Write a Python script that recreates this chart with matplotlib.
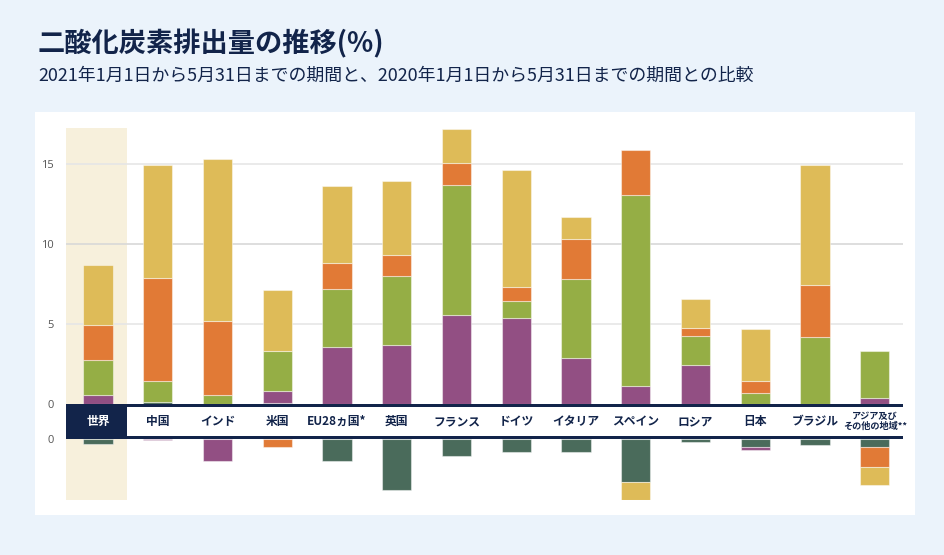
import matplotlib
matplotlib.use("Agg")
import matplotlib.pyplot as plt
from matplotlib.patches import Rectangle
from matplotlib.transforms import blended_transform_factory
import numpy as np

plt.rcParams['font.family'] = ['Noto Sans CJK JP', 'DejaVu Sans']

# ---------------- data ----------------
title = "二酸化炭素排出量の推移(%)"
subtitle = "2021年1月1日から5月31日までの期間と、2020年1月1日から5月31日までの期間との比較"
categories = ["世界", "中国", "インド", "米国", "EU28ヵ国*", "英国", "フランス", "ドイツ",
              "イタリア", "スペイン", "ロシア", "日本", "ブラジル", "アジア及び\nその他の地域**"]
# stacked from the zero line outward, in this order
series_teal   = [-0.33, 0.17, 0.00, 0.10, -1.40, -3.19, -1.10, -0.85, -0.85, -2.68, -0.19, -0.52, -0.40, -0.50]
series_purple = [0.55, -0.10, -1.37, 0.74, 3.58, 3.70, 5.59, 5.38, 2.87, 1.11, 2.46, -0.18, 0.00, 0.40]
series_green  = [2.24, 1.29, 0.57, 2.49, 3.61, 4.32, 8.07, 1.06, 4.94, 11.93, 1.82, 0.70, 4.18, 2.95]
series_orange = [2.16, 6.43, 4.63, -0.50, 1.61, 1.28, 1.39, 0.87, 2.49, 2.80, 0.48, 0.78, 3.28, -1.29]
series_yellow = [3.75, 7.03, 10.12, 3.80, 4.78, 4.60, 2.14, 7.32, 1.39, -1.14, 1.82, 3.24, 7.46, -1.10]
upper_ticks = [0, 5, 10, 15]
lower_ticks = [0]

# ---------------- style ----------------
W, H = 945, 555
navy = "#12244a"
bg = "#ebf3fb"
highlight = "#f7f0dc"
colors = ["#4a6b5b", "#924f83", "#95ae45", "#e17a36", "#debb58"]
series = [series_teal, series_purple, series_green, series_orange, series_yellow]

def fx(x):
    return x / W

def fy(y):
    return 1 - y / H

fig = plt.figure(figsize=(W / 100, H / 100), dpi=100, facecolor=bg)

# white panel
fig.add_artist(Rectangle((fx(35), fy(515)), fx(915) - fx(35), fy(112) - fy(515),
                         transform=fig.transFigure, facecolor="white", edgecolor="none", zorder=0))
# world highlight column
fig.add_artist(Rectangle((fx(66), fy(500)), fx(127) - fx(66), fy(128) - fy(500),
                         transform=fig.transFigure, facecolor=highlight, edgecolor="none", zorder=0.5))

# geometry
left_px, right_px = 66, 903
c0, step = 98, 59.75
zero_top = 404.3
zero_bot = 438.7
top_px = 128
bot_px = 500
ppu = 16.04  # pixels per unit
xl = ((left_px - c0) / step, (right_px - c0) / step)

# band with category labels (below axes so labels drawn on top)
fig.add_artist(Rectangle((fx(left_px), fy(406.9)), fx(right_px) - fx(left_px), fy(404.3) - fy(406.9),
                         transform=fig.transFigure, facecolor=navy, edgecolor="none", zorder=1))
fig.add_artist(Rectangle((fx(left_px), fy(438.7)), fx(right_px) - fx(left_px), fy(436.1) - fy(438.7),
                         transform=fig.transFigure, facecolor=navy, edgecolor="none", zorder=1))
fig.add_artist(Rectangle((fx(66), fy(438.7)), fx(127) - fx(66), fy(404.3) - fy(438.7),
                         transform=fig.transFigure, facecolor=navy, edgecolor="none", zorder=1))

ax_t = fig.add_axes([fx(left_px), fy(zero_top), fx(right_px) - fx(left_px), fy(top_px) - fy(zero_top)])
ax_b = fig.add_axes([fx(left_px), fy(bot_px), fx(right_px) - fx(left_px), fy(zero_bot) - fy(bot_px)])
for ax in (ax_t, ax_b):
    ax.set_facecolor("none")
    for s in ax.spines.values():
        s.set_visible(False)
    ax.set_xlim(*xl)
    ax.set_xticks([])
    ax.tick_params(axis="y", length=0, pad=9, labelsize=8, labelcolor="#555555")
    ax.set_zorder(2)

ax_t.set_ylim(0, (zero_top - top_px) / ppu)
ax_b.set_ylim(-(bot_px - zero_bot) / ppu, 0)
ax_t.set_yticks(upper_ticks)
ax_b.set_yticks(lower_ticks)
ax_t.set_yticklabels([str(t) for t in upper_ticks], family=["Open Sans", "DejaVu Sans"])
ax_b.set_yticklabels([str(t) for t in lower_ticks], family=["Open Sans", "DejaVu Sans"])

# gridlines
for t in upper_ticks[1:]:
    ax_t.axhline(t, color="#d8d8d8" if t == 10 else "#e6e6e6", lw=1.2, zorder=0)

x = np.arange(len(categories))
bw = 0.49
pos_base = np.zeros(len(categories))
neg_base = np.zeros(len(categories))
for vals, col in zip(series, colors):
    v = np.array(vals)
    pos = np.where(v > 0, v, 0)
    neg = np.where(v < 0, v, 0)
    m = pos > 0
    ax_t.bar(x[m], pos[m], bottom=pos_base[m], width=bw, color=col,
             edgecolor=(1, 1, 1, 0.45), linewidth=0.8, zorder=3)
    m = neg < 0
    ax_b.bar(x[m], neg[m], bottom=neg_base[m], width=bw, color=col,
             edgecolor=(1, 1, 1, 0.45), linewidth=0.8, zorder=3)
    pos_base += pos
    neg_base += neg

trans = blended_transform_factory(ax_t.transData, fig.transFigure)
for i, name in enumerate(categories):
    if "\n" in name:
        fs, ls = 6.6, 1.0
    else:
        fs, ls = 8.5, 1.2
    ax_t.text(i, fy(421.5), name, transform=trans, ha="center", va="center",
              fontsize=fs, fontweight="bold", linespacing=ls,
              color="white" if i == 0 else navy, zorder=6, clip_on=False)

# titles
fig.text(fx(38), fy(44), title, fontsize=19.6, fontweight="bold", color=navy, va="center", ha="left")
fig.text(fx(38), fy(76), subtitle, fontsize=12.9, color=navy, va="center", ha="left")

fig.savefig("out.png", dpi=100, facecolor=bg)
